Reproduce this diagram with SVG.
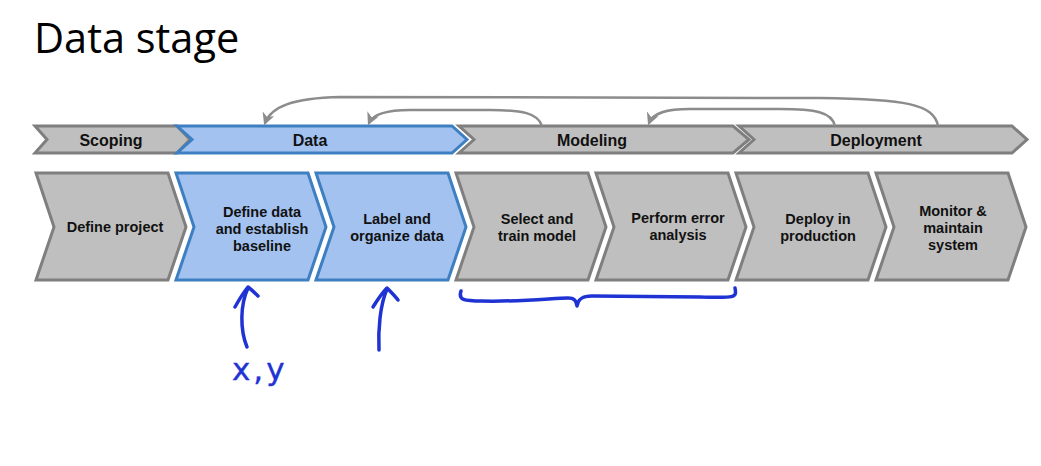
<svg xmlns="http://www.w3.org/2000/svg" width="1041" height="466" viewBox="0 0 1041 466">
<defs>
<marker id="ah" viewBox="0 0 10 10" refX="8" refY="5" markerWidth="5" markerHeight="5" orient="auto" markerUnits="strokeWidth">
<path d="M0,0 L10,5 L0,10 L3,5 z" fill="#8c8c8c"/>
</marker>
</defs>
<style>
.gray{fill:#bfbfbf;stroke:#7f7f7f;stroke-width:3;stroke-linejoin:miter}
.blue{fill:#a3c2f0;stroke:#3d7fc0;stroke-width:3;stroke-linejoin:miter}
.lbl{font-family:"Liberation Sans",Arial,sans-serif;font-weight:bold;font-size:14.5px;fill:#111;text-anchor:middle}
.hdr{font-family:"Liberation Sans",Arial,sans-serif;font-weight:bold;font-size:16px;fill:#111;text-anchor:middle}
.loop{fill:none;stroke:#8c8c8c;stroke-width:2.5;marker-end:url(#ah)}
.ink{fill:none;stroke:#1f33d4;stroke-width:3.5;stroke-linecap:round;stroke-linejoin:round}
</style>
<rect width="1041" height="466" fill="#ffffff"/>
<text x="34" y="53" font-family="'Open Sans','Liberation Sans',sans-serif" font-size="41.5" fill="#000">Data stage</text>

<g id="phase-scoping"><polygon class="gray" points="35,126 177,126 190,139.5 177,153 35,153 47,139.5"/><text class="hdr" x="111" y="145.5">Scoping</text></g>
<g id="phase-data"><polygon class="blue" points="177,126 452,126 467,139.5 452,153 177,153 192,139.5"/><text class="hdr" x="310" y="145.5">Data</text></g>
<g id="phase-modeling"><polygon class="gray" points="459,126 733,126 749,139.5 733,153 459,153 474,139.5"/><text class="hdr" x="592" y="145.5">Modeling</text></g>
<g id="phase-deployment"><polygon class="gray" points="739,126 1012,126 1027,139.5 1012,153 739,153 754,139.5"/><text class="hdr" x="876" y="145.5">Deployment</text></g>

<g id="step-define-project"><polygon class="gray" points="36,173 168,173 186,227 168,280 36,280 54,227"/><text class="lbl" x="115" y="232">Define project</text></g>
<g id="step-define-data"><polygon class="blue" points="176,173 308,173 326,227 308,280 176,280 194,227"/><text class="lbl" x="262" y="217">Define data</text><text class="lbl" x="262" y="234">and establish</text><text class="lbl" x="262" y="251">baseline</text></g>
<g id="step-label"><polygon class="blue" points="316,173 448,173 466,227 448,280 316,280 334,227"/><text class="lbl" x="397" y="224">Label and</text><text class="lbl" x="397" y="241">organize data</text></g>
<g id="step-select"><polygon class="gray" points="456,173 588,173 606,227 588,280 456,280 474,227"/><text class="lbl" x="537" y="224">Select and</text><text class="lbl" x="537" y="241">train model</text></g>
<g id="step-error"><polygon class="gray" points="596,173 728,173 746,227 728,280 596,280 614,227"/><text class="lbl" x="678" y="223">Perform error</text><text class="lbl" x="678" y="240">analysis</text></g>
<g id="step-deploy"><polygon class="gray" points="736,173 868,173 886,227 868,280 736,280 754,227"/><text class="lbl" x="818" y="224">Deploy in</text><text class="lbl" x="818" y="241">production</text></g>
<g id="step-monitor"><polygon class="gray" points="876,173 1008,173 1026,227 1008,280 876,280 894,227"/><text class="lbl" x="953" y="216">Monitor &amp;</text><text class="lbl" x="953" y="233">maintain</text><text class="lbl" x="953" y="250">system</text></g>

<g id="connectors">
<path class="loop" d="M938,126 C934,104 905,99 820,98 L340,97 C292,98 271,107 265,123"/>
<path class="loop" d="M542,126 C538,113 522,110 490,110 L410,110 C386,110 373,114 369,123"/>
<path class="loop" d="M835,126 C832,112 815,109 780,109 L690,109 C666,109 653,113 649,123"/>
</g>

<g id="annotations">
<path class="ink" d="M247,347 C240,330 240,305 248,288"/>
<path class="ink" d="M235,307 C240,298 244,292 248,287 C252,290 255,293 258,296"/>
<path class="ink" d="M379,350 C378,330 380,305 387,289"/>
<path class="ink" d="M373,307 C378,299 382,293 387,288 C391,292 395,296 398,300"/>
<path class="ink" d="M461,291 C458,300 464,301 482,301 C520,302 555,298 568,298 C574,298 576,300 577,306 C578,299 582,296 592,296 L700,297 C735,298 737,298 735,288"/>
<text x="232" y="380" font-family="'DejaVu Sans','Liberation Sans',sans-serif" font-size="31" letter-spacing="3" fill="#1f33d4" stroke="#1f33d4" stroke-width="0.4">x,y</text>
</g>
</svg>
